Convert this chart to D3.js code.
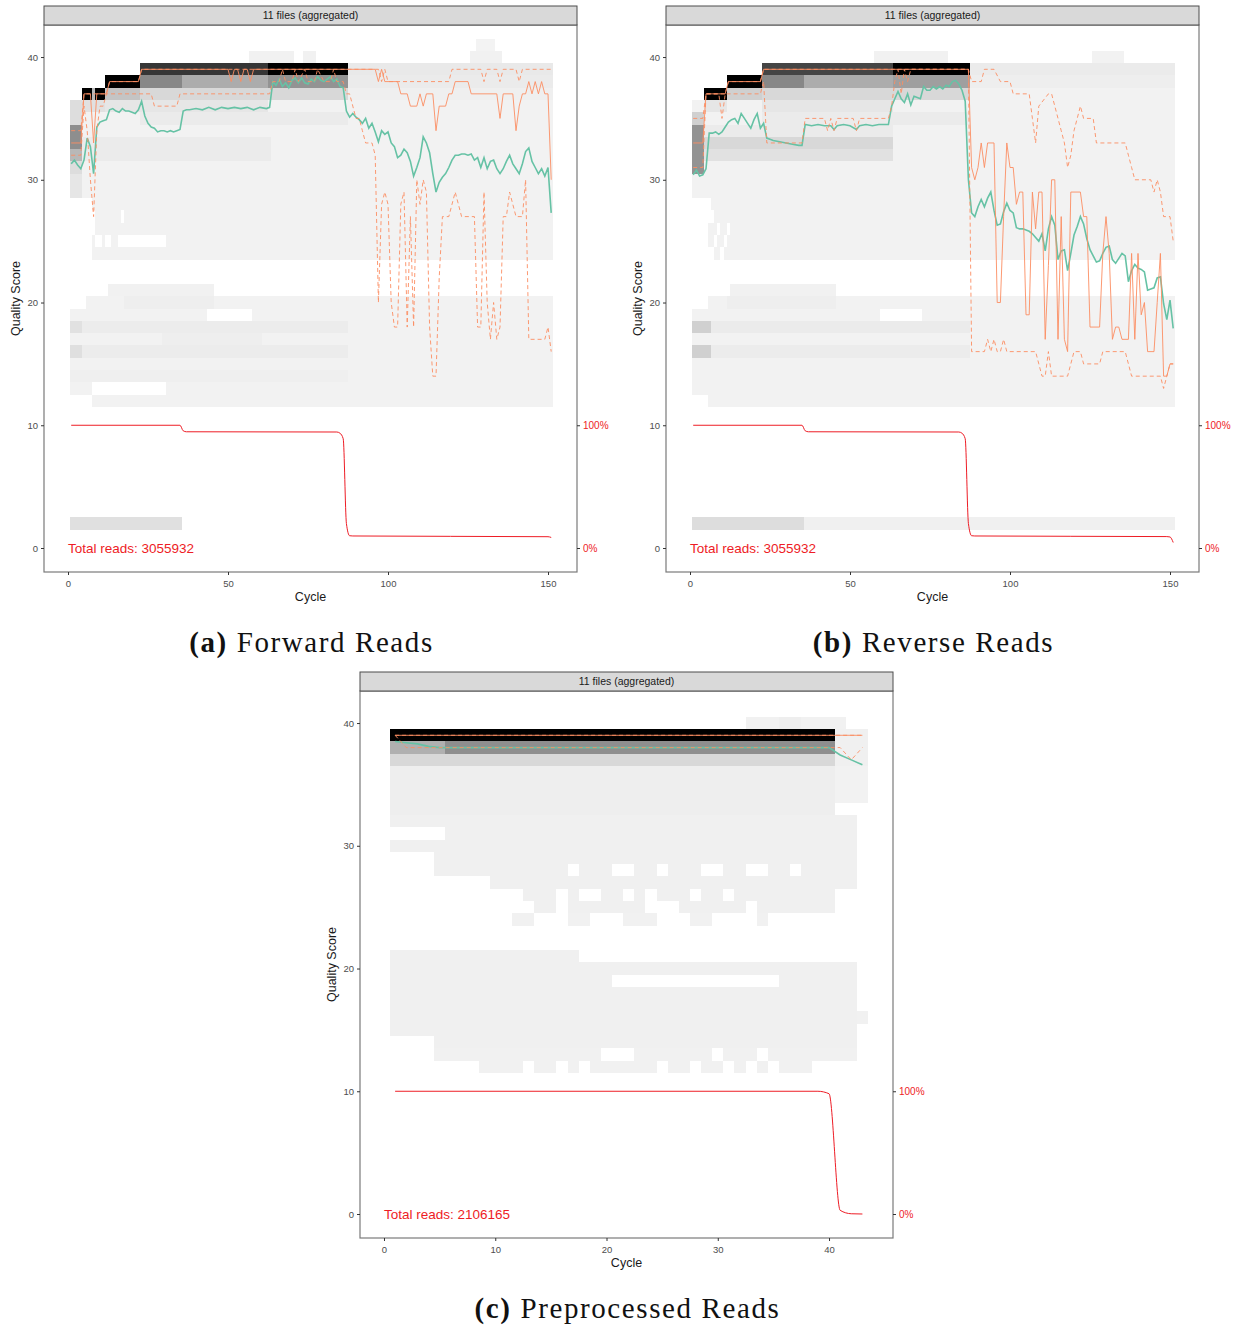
<!DOCTYPE html>
<html>
<head>
<meta charset="utf-8">
<script src="https://cdn.jsdelivr.net/npm/d3@7"></script>
<style>
  body { margin: 0; background: #fff; }
  svg { display: block; }
</style>
</head>
<body>
<svg id="fig" width="1244" height="1329" font-family="'Liberation Sans', Arial, sans-serif"></svg>
<script>
// ---------- axis breaks and labels ----------
const cycleTicksLong = [0, 50, 100, 150];
const cycleTicksShort = [0, 10, 20, 30, 40];
const scoreTicks = [0, 10, 20, 30, 40];
const pctBreaks = [0, 10];
const pctLabels = ["0%", "100%"];
const stripLabel = "11 files (aggregated)";

// ---------- tile blocks: [scoreLow, scoreHigh, cycleFrom, cycleTo, shade]; shade -1 = empty ----------
const tilesFwd = [
  [29, 36, 1, 151, 0.012], [37, 37, 5, 151, 0.012], [38, 38, 12, 151, 0.012], [39, 39, 23, 151, 0.02],
  [24, 28, 8, 151, 0.012], [40, 40, 57, 70, 0.015], [40, 40, 74, 77, 0.015], [40, 40, 126, 135, 0.015], [41, 41, 128, 133, 0.01],
  [13, 19, 1, 151, 0.012], [20, 20, 6, 151, 0.012], [12, 12, 8, 151, 0.012], [21, 21, 13, 45, 0.015],
  [2, 2, 1, 35, 0.085],
  [18, 18, 1, 87, 0.035], [16, 16, 1, 87, 0.035], [20, 20, 18, 45, 0.03], [14, 14, 1, 87, 0.025], [17, 17, 30, 60, 0.03],
  [18, 18, 1, 4, 0.08], [16, 16, 1, 4, 0.09],
  [37, 37, 5, 7, 1], [37, 37, 9, 11, 1], [37, 37, 8, 8, 0.25], [36, 36, 5, 11, 0.08],
  [38, 38, 12, 22, 1], [37, 37, 12, 22, 0.2], [36, 36, 12, 22, 0.06],
  [39, 39, 23, 62, 0.78], [39, 39, 63, 87, 1],
  [38, 38, 23, 35, 0.45], [38, 38, 36, 62, 0.3], [38, 38, 63, 87, 0.4],
  [37, 37, 23, 87, 0.12], [36, 36, 23, 62, 0.06], [35, 35, 23, 87, 0.04],
  [32, 33, 5, 63, 0.04], [33, 34, 1, 4, 0.42], [32, 32, 1, 4, 0.25], [35, 36, 1, 4, 0.1], [31, 31, 1, 4, 0.1], [29, 30, 1, 4, 0.06],
  [39, 39, 88, 151, 0.05], [38, 38, 88, 151, 0.04], [37, 37, 88, 151, 0.025],
  [25, 25, 9, 10, -1], [25, 25, 12, 13, -1], [25, 25, 16, 30, -1], [27, 27, 17, 17, -1], [27, 27, 8, 8, -1], [26, 26, 8, 8, -1],
  [19, 19, 44, 57, -1], [13, 13, 8, 30, -1]
];
const tilesRev = [
  [29, 36, 1, 151, 0.012], [37, 37, 5, 151, 0.012], [38, 38, 12, 151, 0.012], [39, 39, 23, 151, 0.02],
  [24, 28, 6, 151, 0.012], [40, 40, 58, 80, 0.015], [40, 40, 126, 135, 0.012],
  [13, 19, 1, 151, 0.012], [12, 12, 6, 151, 0.012], [20, 20, 6, 151, 0.012], [21, 21, 13, 45, 0.015],
  [2, 2, 1, 35, 0.1], [2, 2, 36, 151, 0.02],
  [18, 18, 1, 6, 0.15], [16, 16, 1, 6, 0.15], [18, 18, 7, 87, 0.04], [16, 16, 7, 87, 0.035], [20, 20, 12, 45, 0.03],
  [37, 37, 5, 11, 1], [36, 36, 5, 11, 0.06],
  [38, 38, 12, 22, 1], [37, 37, 12, 22, 0.15],
  [39, 39, 23, 63, 0.72], [39, 39, 64, 87, 1],
  [38, 38, 23, 35, 0.45], [38, 38, 36, 63, 0.3], [38, 38, 64, 87, 0.35],
  [37, 37, 23, 87, 0.12], [36, 36, 23, 63, 0.06], [35, 35, 23, 87, 0.04],
  [31, 34, 1, 4, 0.4], [35, 35, 1, 4, 0.15], [33, 33, 5, 63, 0.12], [32, 32, 5, 63, 0.08], [34, 34, 5, 63, 0.04],
  [39, 39, 88, 151, 0.04], [38, 38, 88, 151, 0.03],
  [28, 28, 6, 6, -1], [27, 27, 6, 7, -1], [26, 26, 9, 9, -1], [26, 26, 12, 12, -1], [25, 25, 8, 8, -1], [25, 25, 11, 11, -1],
  [24, 24, 6, 7, -1], [24, 24, 10, 10, -1], [19, 19, 60, 72, -1]
];
const tilesPre = [
  [40, 40, 33, 41, 0.015], [40, 40, 36, 37, 0.03],
  [39, 39, 1, 40, 1], [39, 39, 41, 43, 0.02],
  [38, 38, 1, 5, 0.28], [38, 38, 6, 40, 0.42], [38, 38, 41, 43, 0.02],
  [37, 37, 1, 40, 0.12], [37, 37, 41, 43, 0.02],
  [33, 36, 1, 40, 0.03], [34, 36, 41, 43, 0.012],
  [32, 32, 1, 42, 0.02], [31, 31, 6, 42, 0.02], [30, 30, 1, 42, 0.02], [28, 29, 5, 42, 0.02],
  [27, 27, 10, 42, 0.02], [26, 26, 13, 40, 0.02], [25, 25, 14, 40, 0.02], [24, 24, 12, 38, 0.018],
  [28, 28, 17, 17, -1], [28, 28, 21, 22, -1], [28, 28, 25, 25, -1], [28, 28, 29, 30, -1], [28, 28, 33, 34, -1], [28, 28, 37, 37, -1],
  [26, 26, 16, 16, -1], [26, 26, 18, 19, -1], [26, 26, 22, 22, -1], [26, 26, 24, 24, -1], [26, 26, 28, 28, -1], [26, 26, 31, 31, -1],
  [25, 25, 16, 16, -1], [25, 25, 24, 26, -1], [25, 25, 33, 33, -1],
  [24, 24, 14, 16, -1], [24, 24, 19, 21, -1], [24, 24, 25, 27, -1], [24, 24, 30, 33, -1], [24, 24, 35, 38, -1],
  [21, 21, 1, 17, 0.02], [15, 20, 1, 42, 0.02], [16, 16, 43, 43, 0.015], [14, 14, 5, 42, 0.02], [13, 13, 5, 42, 0.018], [12, 12, 9, 38, 0.018],
  [19, 19, 21, 35, -1], [13, 13, 20, 22, -1], [13, 13, 30, 30, -1], [13, 13, 34, 34, -1],
  [12, 12, 13, 13, -1], [12, 12, 16, 16, -1], [12, 12, 18, 18, -1], [12, 12, 25, 25, -1], [12, 12, 28, 28, -1],
  [12, 12, 31, 31, -1], [12, 12, 33, 33, -1], [12, 12, 35, 35, -1]
];

// ---------- per-cycle summary lines: [cycle, score] ----------
const meanFwd = [[1,31.3],[2,31.6],[3,31.2],[4,30.9],[5,31.6],[6,33.4],[7,32.7],[8,30.5],[9,34.3],[10,34.7],[11,34.8],[12,34.9],[13,35.7],[14,35.8],[15,35.6],[16,35.5],[17,35.8],[18,35.6],[19,35.6],[20,35.5],[21,35.4],[22,35.7],[23,36.4],[24,35.2],[25,34.6],[26,34.3],[27,34.2],[28,33.9],[29,34.0],[30,34.0],[31,33.9],[32,34.0],[33,33.9],[34,34.0],[35,34.1],[36,35.6],[37,35.7],[38,35.7],[40,35.8],[42,35.7],[44,35.9],[46,35.7],[48,35.9],[50,35.8],[52,35.9],[54,35.8],[56,35.9],[58,35.7],[60,35.9],[62,35.8],[63,35.9],[64,38.0],[65,37.7],[66,38.2],[67,37.6],[68,37.9],[69,37.5],[70,38.1],[71,38.3],[72,37.9],[73,38.3],[74,37.9],[75,37.8],[76,38.2],[77,38.0],[78,38.4],[79,38.1],[80,38.0],[81,38.2],[82,38.4],[83,38.0],[84,38.2],[85,37.6],[86,37.5],[87,35.6],[88,35.1],[89,35.4],[90,35.1],[91,34.9],[92,34.6],[93,35.0],[94,34.2],[95,34.6],[96,33.9],[97,33.1],[98,34.0],[99,33.7],[100,33.9],[101,33.0],[102,32.7],[103,31.8],[104,32.0],[105,32.5],[106,32.2],[107,31.5],[108,30.3],[109,31.0],[110,31.8],[111,33.5],[112,33.0],[113,32.2],[114,30.5],[115,29.0],[116,29.8],[117,30.2],[118,30.5],[119,31.0],[120,31.6],[121,32.0],[122,32.0],[123,32.1],[124,32.1],[125,32.0],[126,32.1],[127,31.6],[128,31.8],[129,31.0],[130,31.8],[131,30.9],[132,31.5],[133,31.6],[134,30.9],[135,30.5],[136,30.9],[137,31.5],[138,32.0],[139,31.3],[140,30.9],[141,30.5],[142,31.3],[143,32.3],[144,32.6],[145,31.5],[146,31.0],[147,30.5],[148,30.9],[149,30.3],[150,31.0],[151,27.3]];
const medianFwd = [[1,33],[4,33],[5,37],[7,37],[8,33],[9,37],[12,37],[13,38],[22,38],[23,39],[50,39],[51,38],[52,39],[53,39],[54,38],[55,39],[56,39],[57,38],[58,39],[96,39],[97,38],[98,39],[99,38],[103,38],[104,37],[106,37],[107,36],[109,36],[110,37],[111,36],[112,37],[114,37],[115,34],[116,36],[118,36],[119,37],[120,37],[121,38],[125,38],[126,37],[134,37],[135,35],[136,37],[139,37],[140,34],[141,36],[142,37],[143,37],[144,38],[145,37],[146,38],[147,37],[148,38],[149,37],[150,37],[151,30]];
const q75Fwd = [[1,34],[4,34],[5,37],[12,37],[13,38],[22,38],[23,39],[97,39],[98,38],[99,39],[100,38],[119,38],[120,39],[129,39],[130,38],[131,39],[134,39],[135,38],[136,39],[140,39],[141,38],[142,39],[151,39]];
const q25Fwd = [[1,32],[4,32],[5,36],[6,34],[7,30],[8,27],[9,34],[10,36],[11,36],[12,37],[26,37],[27,36],[34,36],[35,37],[63,37],[64,38],[66,38],[67,39],[68,38],[70,38],[71,39],[72,38],[74,39],[75,38],[77,38],[78,39],[80,38],[82,38],[83,39],[84,38],[86,38],[87,37],[88,37],[89,36],[90,35],[91,35],[92,34],[93,33],[94,33],[95,33],[96,32],[97,20],[98,28],[99,29],[100,28],[101,20],[102,18],[103,18],[104,28],[105,29],[106,18],[107,27],[108,18],[109,30],[110,28],[111,30],[112,29],[113,18],[114,14],[115,14],[116,22],[117,27],[118,27],[119,27],[120,28],[121,29],[122,28],[123,27],[127,27],[128,18],[129,18],[130,29],[131,20],[132,17],[133,20],[134,17],[135,18],[136,27],[137,27],[138,29],[139,28],[140,27],[142,27],[143,30],[144,17],[149,17],[150,18],[151,16]];
const cumFwd = [[1,10],[35,10],[36,9.55],[37,9.47],[84,9.45],[85,9.35],[86,8.9],[87,2.0],[88,1.0],[89,0.98],[150,0.92],[151,0.86]];

const meanRev = [[1,30.4],[2,30.8],[3,30.3],[4,30.4],[5,30.9],[6,33.8],[7,33.8],[8,33.9],[9,33.7],[10,33.9],[11,34.3],[12,34.7],[13,34.9],[14,35.0],[15,34.6],[16,35.4],[17,35.0],[18,34.6],[19,34.2],[20,34.9],[21,35.4],[22,34.2],[23,34.6],[24,33.4],[25,33.3],[26,33.2],[28,33.1],[30,33.0],[32,32.9],[34,32.8],[35,32.8],[36,34.5],[38,34.4],[40,34.5],[42,34.4],[44,34.4],[45,34.1],[46,34.4],[48,34.5],[50,34.4],[52,34.1],[53,34.4],[55,34.5],[57,34.4],[59,34.5],[61,34.5],[62,34.5],[63,36.0],[64,36.6],[65,37.2],[66,36.6],[67,36.3],[68,37.0],[69,36.1],[70,36.8],[71,36.7],[72,36.6],[73,37.6],[74,37.3],[75,37.3],[76,37.6],[77,37.4],[78,37.6],[79,37.4],[80,37.7],[81,37.6],[82,38.0],[83,38.1],[84,37.8],[85,37.3],[86,36.4],[87,30.0],[88,27.3],[89,27.0],[90,27.8],[91,28.4],[92,27.8],[93,28.5],[94,29.0],[95,27.5],[96,26.3],[97,26.4],[98,27.4],[99,28.1],[100,27.5],[101,27.3],[102,26.1],[103,26.0],[104,26.0],[105,25.9],[106,25.8],[107,25.6],[108,25.3],[109,25.0],[110,25.6],[111,24.2],[112,26.0],[113,27.0],[114,26.3],[115,23.5],[116,24.2],[117,24.3],[118,22.6],[119,24.0],[120,25.5],[121,26.2],[122,27.0],[123,26.4],[124,25.2],[125,24.3],[126,23.8],[127,23.3],[128,23.4],[129,24.0],[130,24.5],[131,24.6],[132,23.5],[133,23.2],[134,23.6],[135,24.0],[136,23.8],[137,21.7],[138,22.6],[139,23.1],[140,22.8],[141,22.7],[142,22.5],[143,21.0],[144,21.1],[145,21.2],[146,22.0],[147,22.1],[148,19.9],[149,18.6],[150,20.2],[151,17.9]];
const medianRev = [[1,33],[4,33],[5,37],[11,37],[12,38],[22,38],[23,39],[87,39],[88,31],[89,30],[90,31],[91,33],[92,31],[93,33],[95,33],[96,20],[97,20],[98,27],[99,33],[100,31],[101,31],[102,28],[103,29],[104,29],[105,19],[106,19],[107,29],[108,26],[109,29],[110,29],[111,17],[112,23],[113,30],[114,30],[115,17],[116,27],[117,17],[118,16],[119,29],[122,29],[123,27],[124,27],[125,18],[128,18],[129,24],[130,27],[131,24],[132,17],[133,18],[134,18],[135,17],[137,17],[138,24],[139,17],[140,24],[141,19],[142,20],[143,16],[145,16],[146,20],[147,24],[148,14],[149,14],[150,15],[151,15]];
const q75Rev = [[1,35],[4,35],[5,37],[11,37],[12,38],[22,38],[23,39],[87,39],[88,38],[91,38],[92,39],[95,39],[97,38],[100,38],[101,37],[106,37],[107,35],[108,33],[109,36],[112,37],[113,37],[114,36],[115,35],[116,34],[117,33],[118,31],[119,32],[120,34],[121,35],[122,36],[123,35],[126,35],[127,33],[136,33],[137,32],[138,31],[139,30],[144,30],[145,29],[146,30],[147,29],[148,27],[150,27],[151,25]];
const q25Rev = [[1,31],[4,31],[5,37],[9,37],[10,35],[11,37],[22,37],[23,38],[24,33],[35,33],[36,35],[42,35],[43,34],[44,35],[45,34],[46,35],[51,35],[52,34],[53,35],[62,35],[63,36],[64,38],[65,39],[66,37],[67,39],[68,38],[69,39],[87,39],[88,16],[92,16],[93,17],[94,16],[95,17],[96,16],[97,16],[98,17],[99,16],[108,16],[109,15],[110,14],[111,14],[112,16],[113,14],[118,14],[119,15],[120,16],[122,16],[123,15],[128,15],[129,16],[136,16],[137,15],[138,14],[147,14],[148,13],[149,14],[150,15],[151,15]];
const cumRev = [[1,10],[35,10],[36,9.55],[37,9.47],[84,9.45],[85,9.35],[86,8.9],[87,2.0],[88,1.0],[89,0.98],[149,0.93],[150,0.9],[151,0.45]];

const meanPre = [[1,38.5],[2,38.4],[3,38.3],[4,38.1],[5,38.0],[6,38.0],[40,38.0],[41,37.4],[42,37.0],[43,36.6]];
const medianPre = [[1,39],[43,39]];
const q75Pre = [[1,39],[43,39]];
const q25Pre = [[1,39],[2,38],[41,38],[42,37],[43,38]];
const cumPre = [[1,10],[39,10],[40,9.8],[41,0.3],[42,0.02],[43,0]];

const totalFwd = 3055932, totalRev = 3055932, totalPre = 2106165;

// ---------- panel layout ----------
const panels = [
  { id: "fwd", left: 44, right: 577, top: 6, stripH: 19, bottom: 572, xDomain: [-7.5, 159.06], xTicks: cycleTicksLong,
    tiles: tilesFwd, mean: meanFwd, median: medianFwd, q25: q25Fwd, q75: q75Fwd, cum: cumFwd, total: totalFwd,
    tag: "(a)", caption: " Forward Reads", capY: 652 },
  { id: "rev", left: 666, right: 1199, top: 6, stripH: 19, bottom: 572, xDomain: [-7.5, 159.06], xTicks: cycleTicksLong,
    tiles: tilesRev, mean: meanRev, median: medianRev, q25: q25Rev, q75: q75Rev, cum: cumRev, total: totalRev,
    tag: "(b)", caption: " Reverse Reads", capY: 652 },
  { id: "pre", left: 360, right: 893, top: 672, stripH: 19, bottom: 1238, xDomain: [-2.157, 45.75], xTicks: cycleTicksShort,
    tiles: tilesPre, mean: meanPre, median: medianPre, q25: q25Pre, q75: q75Pre, cum: cumPre, total: totalPre,
    tag: "(c)", caption: " Preprocessed Reads", capY: 1318 }
];

const RED = "#ee1c25";
const svg = d3.select("#fig");
const fillFor = s => s < 0 ? "#FFFFFF" : d3.interpolateRgb("#F5F5F5", "#000000")(s);

panels.forEach(p => {
  const plotTop = p.top + p.stripH;
  const x = d3.scaleLinear().domain(p.xDomain).range([p.left, p.right]);
  const y = d3.scaleLinear().domain([-1.955, 42.61]).range([p.bottom, plotTop]);
  const g = svg.append("g");

  const clipId = "clip-" + p.id;
  svg.append("clipPath").attr("id", clipId).append("rect")
    .attr("x", p.left).attr("y", plotTop).attr("width", p.right - p.left).attr("height", p.bottom - plotTop);
  const plot = g.append("g").attr("clip-path", `url(#${clipId})`);

  // quality-score count tiles
  plot.append("g").selectAll("rect").data(p.tiles).join("rect")
    .attr("x", d => x(d[2] - 0.5))
    .attr("width", d => x(d[3] + 0.5) - x(d[2] - 0.5))
    .attr("y", d => y(d[1] + 0.5))
    .attr("height", d => y(d[0] - 0.5) - y(d[1] + 0.5))
    .attr("fill", d => fillFor(d[4]))
    .attr("shape-rendering", "crispEdges");

  const line = d3.line().x(d => x(d[0])).y(d => y(d[1]));
  plot.append("path").datum(p.mean).attr("d", line)
    .attr("fill", "none").attr("stroke", "#66C2A5").attr("stroke-width", 1.6);
  plot.append("path").datum(p.median).attr("d", line)
    .attr("fill", "none").attr("stroke", "#FC8D62").attr("stroke-width", 0.9);
  [p.q25, p.q75].forEach(q => {
    plot.append("path").datum(q).attr("d", line)
      .attr("fill", "none").attr("stroke", "#FC8D62").attr("stroke-width", 0.9).attr("stroke-dasharray", "4,3");
  });
  const cumLine = d3.line().x(d => x(d[0])).y(d => y(d[1])).curve(d3.curveMonotoneX);
  plot.append("path").datum(p.cum).attr("d", cumLine)
    .attr("fill", "none").attr("stroke", RED).attr("stroke-width", 1);

  plot.append("text").attr("x", x(0)).attr("y", y(0)).attr("dy", "0.36em")
    .attr("font-size", 13.5).attr("fill", RED).text("Total reads: " + p.total);

  // frame
  g.append("rect").attr("x", p.left).attr("y", plotTop).attr("width", p.right - p.left).attr("height", p.bottom - plotTop)
    .attr("fill", "none").attr("stroke", "#7a7a7a").attr("stroke-width", 1.2);

  // strip
  g.append("rect").attr("x", p.left).attr("y", p.top).attr("width", p.right - p.left).attr("height", p.stripH)
    .attr("fill", "#D9D9D9").attr("stroke", "#4d4d4d").attr("stroke-width", 1);
  g.append("text").attr("x", (p.left + p.right) / 2).attr("y", p.top + p.stripH / 2).attr("dy", "0.35em")
    .attr("text-anchor", "middle").attr("font-size", 10.5).attr("fill", "#1a1a1a").text(stripLabel);

  // axes
  const styleAxis = (sel, color, size) => {
    sel.select(".domain").remove();
    sel.attr("font-family", null);
    sel.selectAll(".tick line").attr("stroke", "#333");
    sel.selectAll(".tick text").attr("font-size", size).attr("fill", color);
  };
  g.append("g").attr("transform", `translate(${p.left},0)`)
    .call(d3.axisLeft(y).tickValues(scoreTicks).tickSize(3).tickPadding(3))
    .call(s => styleAxis(s, "#4d4d4d", 9.5));
  g.append("g").attr("transform", `translate(${p.right},0)`)
    .call(d3.axisRight(y).tickValues(pctBreaks).tickSize(3).tickPadding(3).tickFormat((d, i) => pctLabels[i]))
    .call(s => styleAxis(s, RED, 10));
  g.append("g").attr("transform", `translate(0,${p.bottom})`)
    .call(d3.axisBottom(x).tickValues(p.xTicks).tickSize(3).tickPadding(5))
    .call(s => styleAxis(s, "#4d4d4d", 9.5));

  // axis titles
  g.append("text").attr("x", (p.left + p.right) / 2).attr("y", p.bottom + 29)
    .attr("text-anchor", "middle").attr("font-size", 12.5).attr("fill", "#1a1a1a").text("Cycle");
  const cy = (plotTop + p.bottom) / 2;
  g.append("text").attr("transform", `translate(${p.left - 24},${cy}) rotate(-90)`)
    .attr("text-anchor", "middle").attr("font-size", 12.5).attr("fill", "#1a1a1a").text("Quality Score");

  // subfigure caption
  const cap = svg.append("text").attr("x", (p.left + p.right) / 2 + 1).attr("y", p.capY)
    .attr("text-anchor", "middle").attr("font-size", 29).attr("letter-spacing", 1.6)
    .attr("font-family", "'Liberation Serif', 'Times New Roman', serif").attr("fill", "#111");
  cap.append("tspan").attr("font-weight", "bold").text(p.tag);
  cap.append("tspan").text(p.caption);
});
</script>
</body>
</html>
